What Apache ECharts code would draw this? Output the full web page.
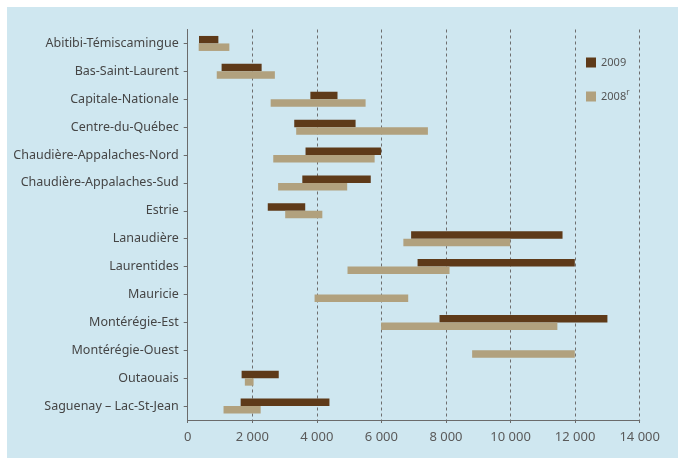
<!DOCTYPE html>
<html>
<head>
<meta charset="utf-8">
<script src="https://cdn.jsdelivr.net/npm/echarts@6/dist/echarts.min.js"></script>
<style>
html,body{margin:0;padding:0;background:#fff;}
#chart{width:678px;height:458px;}
</style>
</head>
<body>
<div id="chart"></div>
<script>
const categories = ['Abitibi-Témiscamingue','Bas-Saint-Laurent','Capitale-Nationale','Centre-du-Québec','Chaudière-Appalaches-Nord','Chaudière-Appalaches-Sud','Estrie','Lanaudière','Laurentides','Mauricie','Montérégie-Est','Montérégie-Ouest','Outaouais','Saguenay – Lac-St-Jean'];
const start2009 = [350, 1050, 3800, 3300, 3650, 3550, 2480, 6920, 7120, null, 7800, null, 1670, 1640];
const end2009   = [950, 2290, 4640, 5200, 5990, 5670, 3640, 11610, 11990, null, 13000, null, 2820, 4390];
const start2008 = [340, 900, 2570, 3360, 2650, 2800, 3020, 6680, 4950, 3930, 5990, 8810, 1770, 1110];
const end2008   = [1290, 2700, 5510, 7440, 5790, 4940, 4170, 9990, 8110, 6830, 11450, 11990, 2040, 2260];
const xTicks = [0, 2000, 4000, 6000, 8000, 10000, 12000, 14000];

const len = (s, e) => s.map((v, i) => (v == null || e[i] == null) ? null : e[i] - v);
const fmt = v => String(v).replace(/\B(?=(\d{3})+(?!\d))/g, ' ');

const chart = echarts.init(document.getElementById('chart'));
const c09 = '#5e3a19', c08 = '#b1a17e';
chart.setOption({
  animation: false,
  backgroundColor: '#ffffff',
  graphic: [{type:'rect', left:7, top:7, shape:{width:671, height:451}, style:{fill:'#cfe7f0'}, z:-10}],
  grid: {left: 187.7, right: 38.3, top: 29.5, bottom: 38},
  legend: {
    orient: 'vertical', left: 581, top: 52, itemWidth: 10, itemHeight: 10, itemGap: 21,
    data: ['2009', '2008'],
    icon: 'rect',
    formatter: n => n === '2008' ? '2008{r|r}' : n,
    textStyle: {color:'#555', fontSize: 11, fontFamily: 'Noto Sans',
      rich: {r: {fontSize: 8, color:'#555', verticalAlign:'top', padding:[0,0,7,0], fontFamily:'Noto Sans'}}}
  },
  xAxis: {
    type: 'value', min: xTicks[0], max: xTicks[xTicks.length-1], interval: 2000,
    axisLine: {show: true, lineStyle: {color: '#6b6b6b'}},
    axisTick: {show: true, length: 3, lineStyle: {color:'#6b6b6b'}},
    splitLine: {show: true, lineStyle: {type: [3,3], color: '#6e6e6e'}},
    axisLabel: {formatter: fmt, color: '#5a5a5a', fontSize: 13, margin: 11, fontFamily: 'Noto Sans'}
  },
  yAxis: {
    type: 'category', inverse: true, data: categories,
    axisLine: {show: true, lineStyle: {color: '#6b6b6b'}},
    axisTick: {show: true, alignWithLabel: true, length: 4, lineStyle:{color:'#6b6b6b'}},
    axisLabel: {color: '#454545', fontSize: 12.5, margin: 9, padding:[0,0,7,0], fontFamily: 'Noto Sans'}
  },
  series: [
    {type:'bar', stack:'s09', data: start2009, barWidth: 7.5, barGap: '0%', itemStyle:{color:'transparent'}, silent:true},
    {type:'bar', stack:'s09', name:'2009', data: len(start2009, end2009), barWidth: 7.5, barGap:'0%', itemStyle:{color:c09}},
    {type:'bar', stack:'s08', data: start2008, barWidth: 7.5, barGap: '0%', itemStyle:{color:'transparent'}, silent:true},
    {type:'bar', stack:'s08', name:'2008', data: len(start2008, end2008), barWidth: 7.5, barGap:'0%', itemStyle:{color:c08}}
  ]
});
</script>
</body>
</html>
